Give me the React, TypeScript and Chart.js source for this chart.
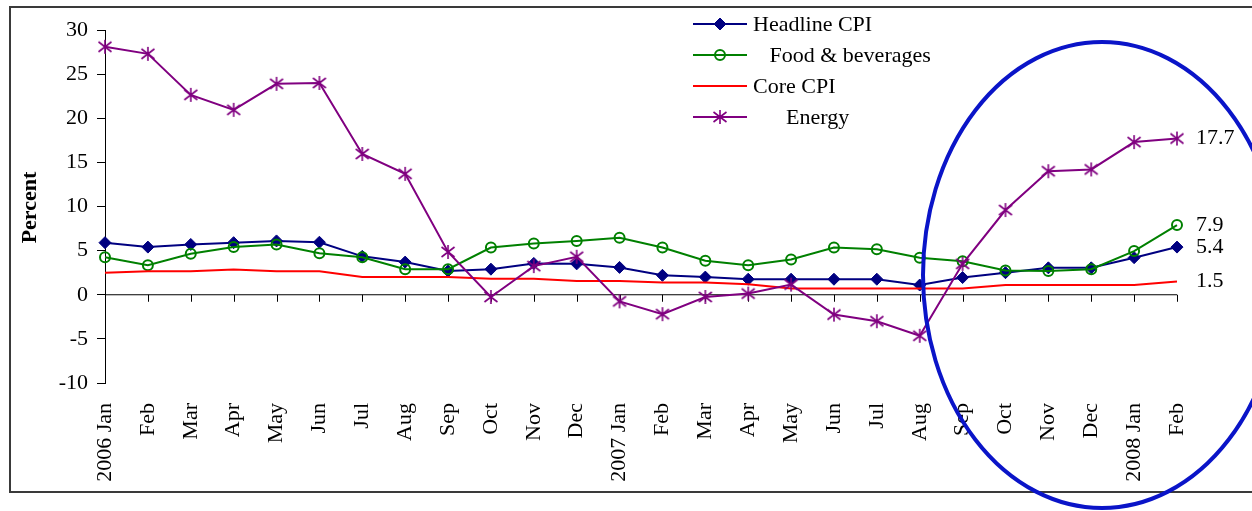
import React, { useEffect, useRef } from "react";
import { Chart, registerables } from "chart.js";
import { drawPoint } from "chart.js/helpers";

Chart.register(...registerables);

const months = [
  "2006 Jan", "Feb", "Mar", "Apr", "May", "Jun", "Jul", "Aug", "Sep", "Oct", "Nov", "Dec",
  "2007 Jan", "Feb", "Mar", "Apr", "May", "Jun", "Jul", "Aug", "Sep", "Oct", "Nov", "Dec",
  "2008 Jan", "Feb",
];

const headlineCPI = [
  5.9, 5.4, 5.7, 5.9, 6.1, 5.95, 4.35, 3.7, 2.7, 2.9, 3.55, 3.5,
  3.1, 2.2, 2.0, 1.76, 1.76, 1.76, 1.76, 1.1, 1.95, 2.5, 3.05, 3.05,
  4.2, 5.4,
];

const foodBeverages = [
  4.25, 3.35, 4.65, 5.4, 5.7, 4.7, 4.25, 2.9, 2.9, 5.35, 5.8, 6.1,
  6.45, 5.35, 3.85, 3.35, 4.0, 5.35, 5.15, 4.2, 3.8, 2.75, 2.7, 2.9,
  4.95, 7.9,
];

const coreCPI = [
  2.5, 2.65, 2.65, 2.85, 2.65, 2.65, 2.0, 2.0, 2.0, 1.8, 1.8, 1.55,
  1.55, 1.4, 1.4, 1.2, 0.7, 0.7, 0.7, 0.7, 0.7, 1.1, 1.1, 1.1,
  1.1, 1.5,
];

const energy = [
  28.1, 27.3, 22.65, 20.95, 23.9, 24.0, 15.95, 13.7, 4.85, -0.25, 3.25, 4.3,
  -0.75, -2.2, -0.25, 0.13, 1.15, -2.25, -3.0, -4.65, 3.5, 9.6, 14.0, 14.2,
  17.3, 17.7,
];

const seriesLabels = ["Headline CPI", "   Food & beverages", "Core CPI", "      Energy"];
const yTicks = { min: -10, max: 30, step: 5 };
const axisTitle = "Percent";

const FONT = '"Liberation Serif", "Times New Roman", serif';

function makeAsterisk(color: string) {
  const c = document.createElement("canvas");
  c.width = 16;
  c.height = 16;
  const g = c.getContext("2d")!;
  g.strokeStyle = color;
  g.lineWidth = 1.6;
  g.lineCap = "butt";
  g.beginPath();
  g.moveTo(8, 1);
  g.lineTo(8, 15);
  g.moveTo(1.5, 3);
  g.lineTo(14.5, 13);
  g.moveTo(14.5, 3);
  g.lineTo(1.5, 13);
  g.stroke();
  return c;
}

const decorPlugin = {
  id: "decor",
  beforeDraw(chart: any) {
    const ctx = chart.ctx;
    ctx.save();
    ctx.strokeStyle = "#3a3a3a";
    ctx.lineWidth = 2;
    ctx.strokeRect(10, 7, 1300, 485);
    ctx.restore();
  },
  beforeDatasetsDraw(chart: any) {
    const ctx = chart.ctx;
    const x = chart.scales.x;
    const y = chart.scales.y;
    const y0 = y.getPixelForValue(0);
    ctx.save();
    ctx.strokeStyle = "#000";
    ctx.lineWidth = 1;
    ctx.beginPath();
    ctx.moveTo(x.left, y0);
    ctx.lineTo(x.right, y0);
    for (let i = 0; i < months.length; i++) {
      const px = Math.round(x.getPixelForTick(i)) + 0.5;
      ctx.moveTo(px, y0);
      ctx.lineTo(px, y0 + 7);
    }
    ctx.stroke();
    ctx.restore();
  },
  afterDraw(chart: any) {
    const ctx = chart.ctx;
    const x = chart.scales.x;
    const y = chart.scales.y;
    ctx.save();
    ctx.font = `bold 22px ${FONT}`;
    ctx.fillStyle = "#000";
    ctx.textAlign = "center";
    ctx.textBaseline = "middle";
    ctx.translate(30, (y.top + y.bottom) / 2 + 1);
    ctx.rotate(-Math.PI / 2);
    ctx.fillText(axisTitle, 0, 0);
    ctx.restore();

    ctx.save();
    ctx.font = `22px ${FONT}`;
    ctx.fillStyle = "#000";
    ctx.textAlign = "left";
    ctx.textBaseline = "middle";
    const lastX = x.getPixelForTick(months.length - 1);
    chart.data.datasets.forEach((ds: any) => {
      const v = ds.data[ds.data.length - 1];
      ctx.fillText(v.toFixed(1), lastX + 19, y.getPixelForValue(v));
    });
    ctx.restore();

    ctx.save();
    ctx.font = `22px ${FONT}`;
    chart.data.datasets.forEach((ds: any, i: number) => {
      const ly = 24 + i * 31;
      ctx.strokeStyle = ds.borderColor;
      ctx.lineWidth = ds.borderWidth;
      ctx.beginPath();
      ctx.moveTo(693, ly);
      ctx.lineTo(747, ly);
      ctx.stroke();
      if (ds.pointRadius > 0) {
        ctx.fillStyle = ds.pointBackgroundColor;
        ctx.strokeStyle = ds.pointBorderColor;
        ctx.lineWidth = ds.pointBorderWidth;
        drawPoint(
          ctx,
          { pointStyle: ds.pointStyle, rotation: 0, radius: ds.pointRadius, borderWidth: ds.pointBorderWidth },
          720,
          ly
        );
      }
      ctx.fillStyle = "#000";
      ctx.textAlign = "left";
      ctx.textBaseline = "middle";
      ctx.fillText(ds.label, 753, ly + 1);
    });
    ctx.restore();

    ctx.save();
    ctx.strokeStyle = "#0a14c8";
    ctx.lineWidth = 4;
    ctx.beginPath();
    ctx.ellipse(1102, 275, 179, 233, 0, 0, Math.PI * 2);
    ctx.stroke();
    ctx.restore();
  },
};

export default function App() {
  const ref = useRef<HTMLCanvasElement | null>(null);
  useEffect(() => {
    if (!ref.current) return;
    const asterisk = makeAsterisk("#800080");
    const chart = new Chart(ref.current, {
      type: "line",
      data: {
        labels: months,
        datasets: [
          {
            label: seriesLabels[0],
            data: headlineCPI,
            borderColor: "#000080",
            borderWidth: 2,
            pointStyle: "rectRot",
            pointRadius: 6,
            pointBackgroundColor: "#000080",
            pointBorderColor: "#000080",
            pointBorderWidth: 1,
            order: 3,
          },
          {
            label: seriesLabels[1],
            data: foodBeverages,
            borderColor: "#008000",
            borderWidth: 2,
            pointStyle: "circle",
            pointRadius: 5,
            pointBackgroundColor: "rgba(0,0,0,0)",
            pointBorderColor: "#008000",
            pointBorderWidth: 2,
            order: 2,
          },
          {
            label: seriesLabels[2],
            data: coreCPI,
            borderColor: "#ff0000",
            borderWidth: 2,
            pointRadius: 0,
            pointBackgroundColor: "#ff0000",
            pointBorderColor: "#ff0000",
            pointBorderWidth: 0,
            order: 1,
          },
          {
            label: seriesLabels[3],
            data: energy,
            borderColor: "#800080",
            borderWidth: 2,
            pointStyle: asterisk,
            pointRadius: 7,
            pointBackgroundColor: "#800080",
            pointBorderColor: "#800080",
            pointBorderWidth: 1.5,
            order: 0,
          },
        ] as any,
      },
      options: {
        animation: false,
        responsive: false,
        devicePixelRatio: 1,
        layout: { padding: { top: 30, right: 75, left: 0, bottom: 0 } },
        plugins: { legend: { display: false }, tooltip: { enabled: false } },
        scales: {
          x: {
            type: "category",
            grid: { display: false, drawTicks: false },
            border: { display: false },
            ticks: {
              autoSkip: false,
              maxRotation: 90,
              minRotation: 90,
              padding: 20,
              color: "#000",
              font: { family: FONT, size: 22 },
            },
            afterFit: (s: any) => {
              s.height = 128;
            },
          },
          y: {
            min: yTicks.min,
            max: yTicks.max,
            ticks: {
              stepSize: yTicks.step,
              padding: 9,
              color: "#000",
              font: { family: FONT, size: 22 },
            },
            grid: { drawOnChartArea: false, tickLength: 8, color: "#000", lineWidth: 1 },
            border: { color: "#000", width: 1 },
            afterFit: (s: any) => {
              s.width = 105;
            },
          },
        },
      } as any,
      plugins: [decorPlugin],
    });
    return () => chart.destroy();
  }, []);
  return (
    <div style={{ position: "absolute", left: 0, top: 0, width: 1252, height: 511, background: "#fff" }}>
      <canvas ref={ref} width={1252} height={511} style={{ width: 1252, height: 511 }} />
    </div>
  );
}
